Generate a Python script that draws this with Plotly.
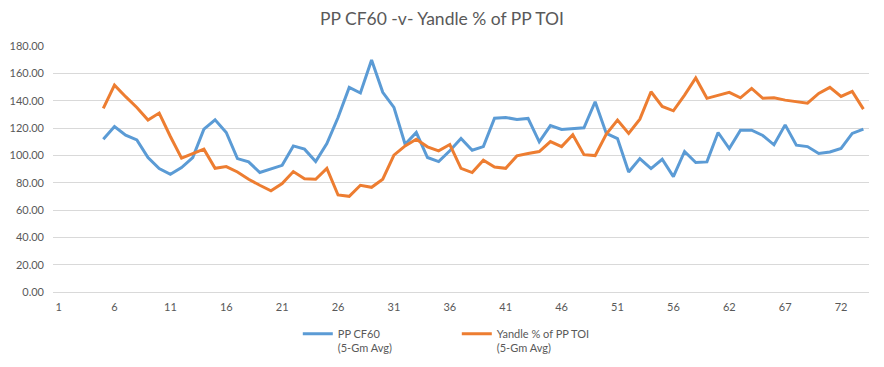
import plotly.graph_objects as go

# Game numbers (category labels); one game number between 56 and 62 is absent
games = [str(g) for g in list(range(1, 59)) + list(range(60, 75))]
tick_labels = ["1", "6", "11", "16", "21", "26", "31", "36", "41", "46", "51", "56", "62", "67", "72"]

# PP CF60 (5-Gm Avg) — first four games have no rolling average
cf60 = [None, None, None, None,
        111.8, 121.1, 114.7, 111.3, 98.4, 90.3, 86.1, 91.0, 98.4, 119.2,
        126.0, 116.7, 97.6, 95.2, 87.4, 90.3, 92.7, 106.9, 104.5, 95.4,
        108.6, 127.7, 149.7, 145.6, 169.8, 146.1, 135.1, 108.1, 116.7, 98.4,
        95.4, 103.3, 112.3, 103.7, 106.4, 127.2, 127.7, 126.2, 127.0, 109.9,
        121.8, 118.9, 119.4, 120.1, 139.2, 116.0, 112.3, 87.8, 97.6, 90.3,
        97.1, 84.4, 102.8, 94.7, 95.2, 116.7, 105.0, 118.4, 118.4, 114.5,
        107.7, 122.3, 107.4, 106.4, 101.3, 102.5, 105.0, 116.0, 119.2]

# Yandle % of PP TOI (5-Gm Avg)
yandle = [None, None, None, None,
          134.3, 151.4, 142.9, 135.0, 125.8, 130.9, 113.8, 97.9, 101.3, 104.5,
          90.5, 91.8, 87.8, 82.5, 78.1, 74.1, 79.3, 88.1, 82.9, 82.5,
          90.5, 71.0, 70.0, 78.1, 76.6, 82.5, 100.1, 106.9, 111.8, 106.2,
          103.3, 107.9, 90.5, 87.4, 96.4, 91.5, 90.5, 99.6, 101.3, 102.8,
          110.1, 106.4, 115.0, 100.5, 99.8, 115.5, 125.8, 116.0, 126.5, 146.5,
          135.8, 132.6, 144.1, 156.6, 141.7, 144.1, 146.1, 142.1, 149.0, 141.7,
          142.1, 140.4, 139.4, 138.2, 145.3, 149.7, 143.1, 146.8, 133.8]

FONT = "Lato, Carlito, Calibri, Liberation Sans, Arial, sans-serif"
GREY = "#595959"

fig = go.Figure()
fig.add_trace(go.Scatter(x=games, y=cf60, mode="lines", name="PP CF60<br>(5-Gm Avg)",
                         line=dict(color="#5B9BD5", width=3), connectgaps=False))
fig.add_trace(go.Scatter(x=games, y=yandle, mode="lines", name="Yandle % of PP TOI<br>(5-Gm Avg)",
                         line=dict(color="#ED7D31", width=3), connectgaps=False))

fig.update_layout(
    width=884, height=367,
    paper_bgcolor="white", plot_bgcolor="white",
    margin=dict(l=53, r=15, t=46, b=75, autoexpand=False),
    font=dict(family=FONT, color=GREY, size=11),
    title=dict(text="PP CF60 -v- Yandle % of PP TOI", x=0.5, xanchor="center",
               y=0.948, yanchor="middle", font=dict(size=17.5, color=GREY, family=FONT)),
    showlegend=True,
    legend=dict(orientation="h", x=0.300, xanchor="left", y=-0.114, yanchor="top",
                font=dict(size=11, color=GREY, family=FONT), valign="top",
                entrywidth=114, entrywidthmode="pixels", bgcolor="rgba(0,0,0,0)"),
    xaxis=dict(type="category", categoryorder="array", categoryarray=games,
               range=[-0.5, len(games) - 0.5], automargin=False,
               tickmode="array", tickvals=tick_labels, ticktext=tick_labels,
               showgrid=False, showline=True, linecolor="#D9D9D9", linewidth=1,
               ticks="", ticklabelstandoff=5,
               tickfont=dict(size=11, color=GREY, family=FONT), zeroline=False),
    yaxis=dict(range=[0, 180], dtick=20, tickformat=".2f", showgrid=True, automargin=False,
               gridcolor="#D9D9D9", gridwidth=1, zeroline=False, showline=False,
               ticks="", ticklabelstandoff=8,
               tickfont=dict(size=11, color=GREY, family=FONT)),
)

# remove the browser's default body margin so the figure sits at the window origin
fig.write_html("out.html", config={"displayModeBar": False},
               post_script="document.body.style.margin='0';")
